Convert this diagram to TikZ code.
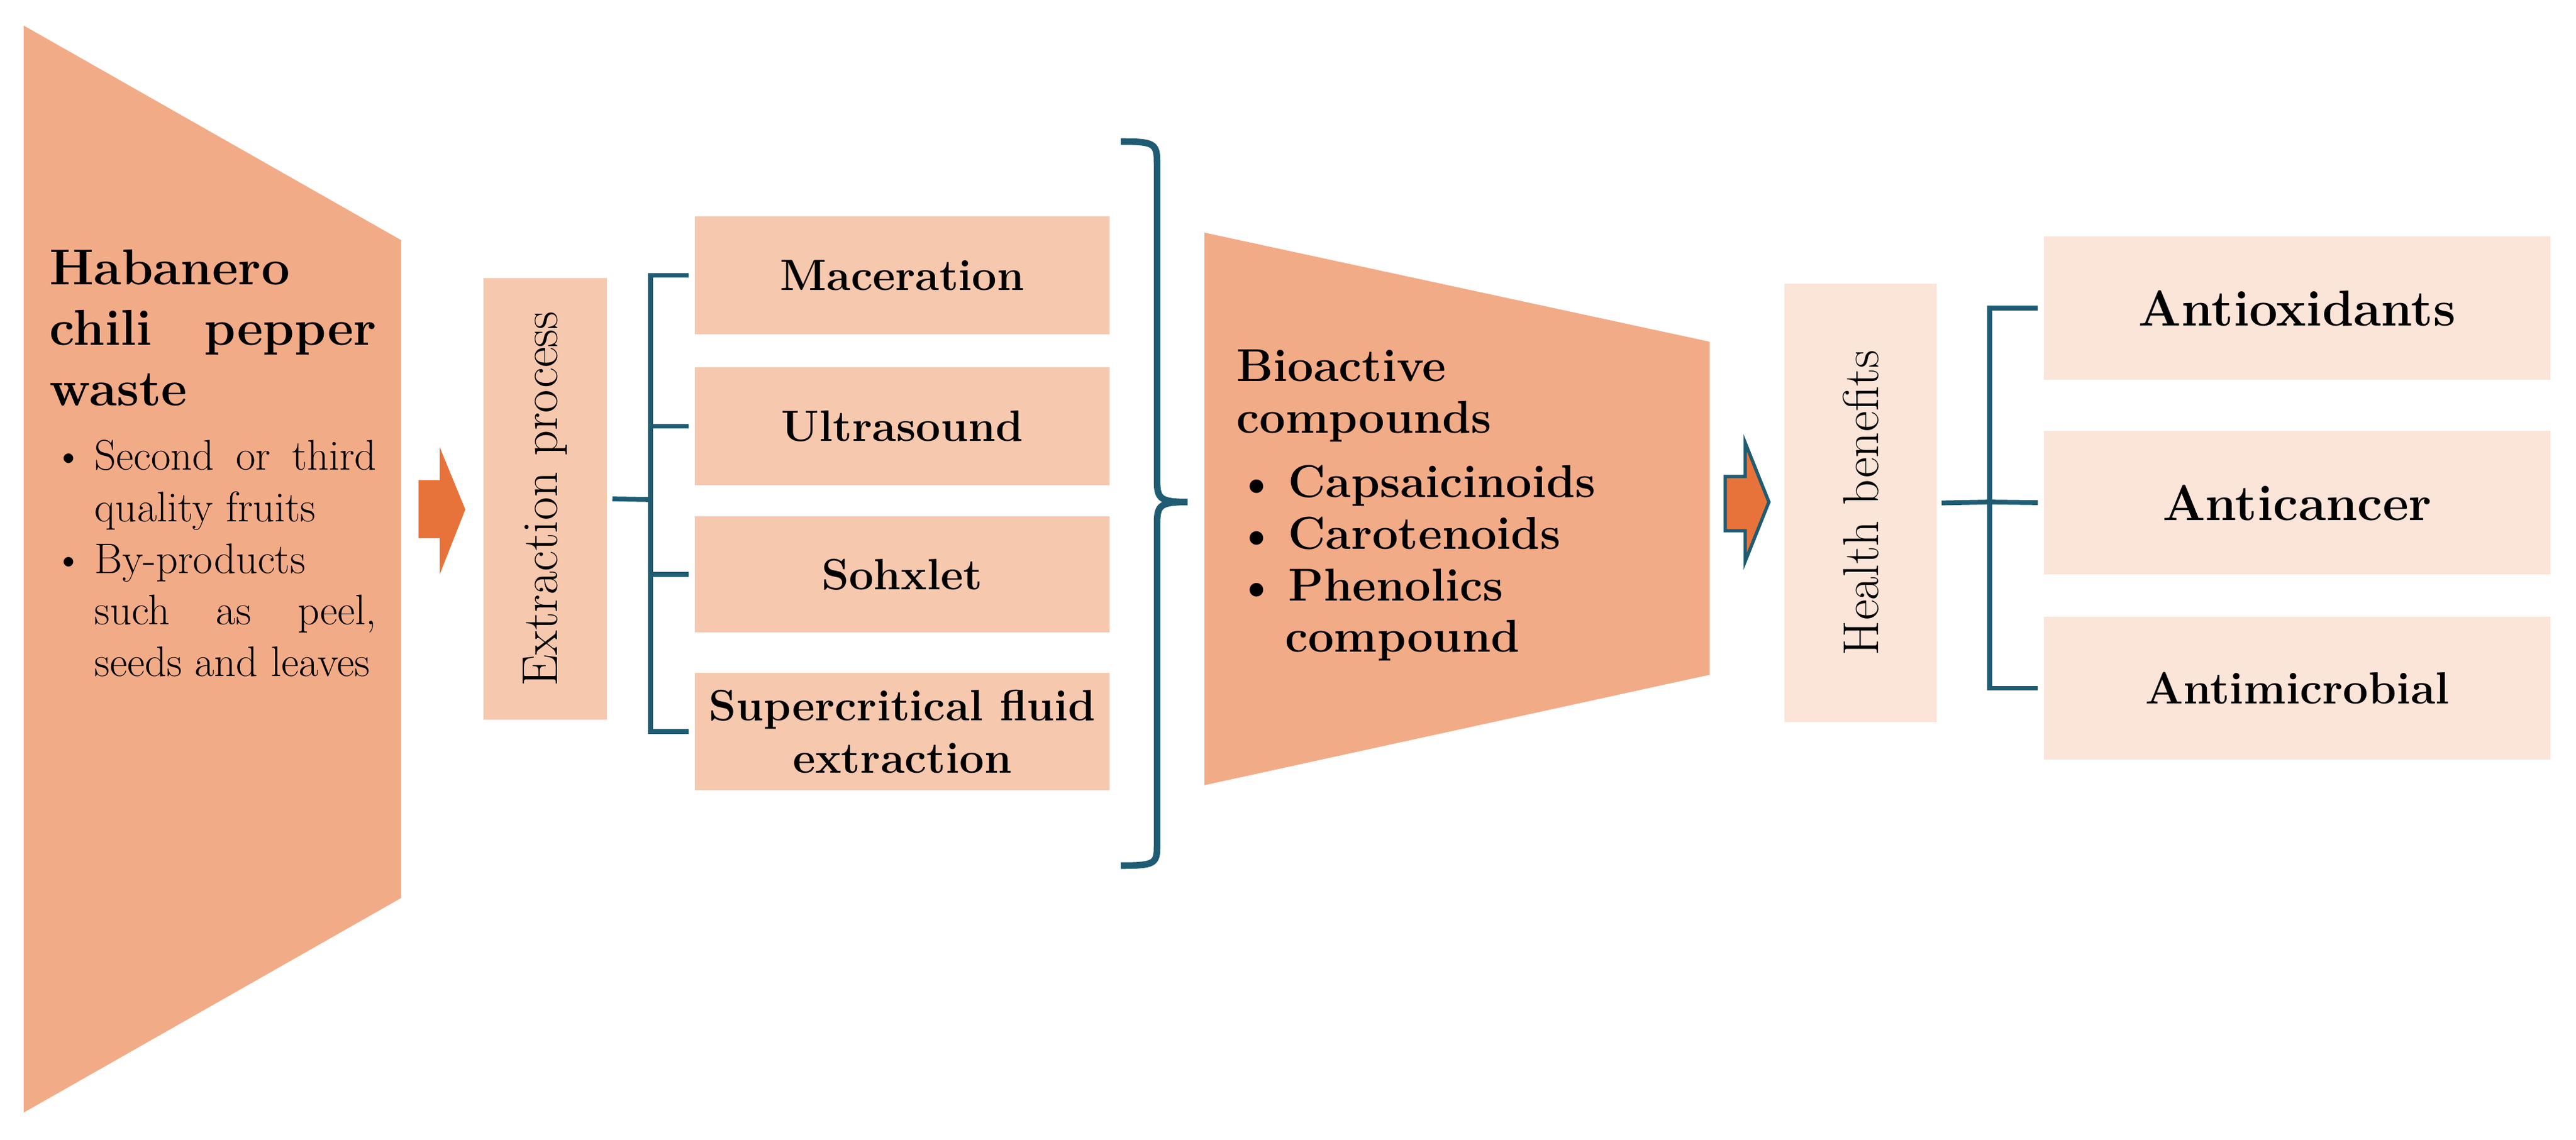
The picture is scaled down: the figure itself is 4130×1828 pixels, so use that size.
\documentclass[tikz,border=0pt]{standalone}
\usepackage{fontspec}
\usetikzlibrary{calc}
\definecolor{trap}{HTML}{F2AB87}
\definecolor{mbox}{HTML}{F6C8AE}
\definecolor{lbox}{HTML}{FBE4D8}
\definecolor{arr}{HTML}{E8733A}
\definecolor{conn}{HTML}{1F5C73}
\tikzset{
  box/.style={draw=none,inner sep=0pt},
  link/.style={draw=conn,line width=2.2pt},
  meth/.style={font=\fontsize{20}{24}\selectfont\bfseries,align=center},
}
\newcommand{\blist}[1]{\begin{list}{\textbullet}{\setlength{\leftmargin}{1.05em}\setlength{\labelwidth}{0.8em}\setlength{\labelsep}{0.25em}\setlength{\itemsep}{0pt}\setlength{\topsep}{4pt}\setlength{\parsep}{0pt}}#1\end{list}}
\begin{document}
\begin{tikzpicture}[x=0.01cm,y=-0.01cm]
\useasboundingbox (0,0) rectangle (4130,1828);
% left trapezoid
\fill[trap] (38,41) -- (643,385) -- (643,1440) -- (38,1784) -- cycle;
\node[anchor=north west,inner sep=0pt,text width=5.24cm,align=justify] (waste) at (79,400)
 {\fontsize{23}{27.5}\selectfont\bfseries Habanero chili pepper waste\par
  \fontsize{19.5}{23.5}\selectfont\mdseries
  \blist{\item Second or third quality fruits
  \item By-products such as peel, seeds and leaves}};
% arrow 1
\fill[arr] (671,770) -- (705,770) -- (705,717) -- (746,817) -- (705,921) -- (705,863) -- (671,863) -- cycle;
% extraction box
\node[box,fill=mbox,minimum width=1.98cm,minimum height=7.07cm] (ext) at (874,800) {};
\node[rotate=90,font=\fontsize{23}{27}\selectfont] at (ext) {Extraction process};
% methods
\foreach \n/\y/\h/\txt in {mac/441.5/1.89cm/Maceration, ult/683.5/1.89cm/Ultrasound, soh/921/1.86cm/Sohxlet, sup/1173/1.88cm/{Supercritical fluid\\extraction}}{
  \node[box,fill=mbox,minimum width=6.65cm,minimum height=\h] (\n) at (1446.5,\y) {};
  \node[meth] at (\n) {\txt};
}
\coordinate (ej) at (1043,801);
\draw[link] (ext.east) ++(8,0) -- (ej);
\draw[link] ($(mac.west)+(-9,0)$) -| (ej) |- ($(sup.west)+(-9,0)$);
\draw[link] ($(ult.west)+(-9,0)$) -- (1043,683.5);
\draw[link] ($(soh.west)+(-9,0)$) -- (1043,921);
% brace
\draw[conn,line width=3pt] (1797,227) .. controls (1850,227) and (1855,230) .. (1855,260) -- (1855,770) .. controls (1855,800) and (1860,805) .. (1904,805)
  .. controls (1860,805) and (1855,810) .. (1855,840) -- (1855,1358) .. controls (1855,1385) and (1850,1388) .. (1797,1388);
% bioactive trapezoid
\fill[trap] (1931,373) -- (2741,548) -- (2741,1082) -- (1931,1259) -- cycle;
\node[anchor=north west,inner sep=0pt,text width=8cm] (bio) at (1982,560)
 {\fontsize{21}{23.5}\selectfont\bfseries Bioactive\\compounds\par
  \blist{\item Capsaicinoids \item Carotenoids \item Phenolics\\compound}};
% arrow 2
\draw[fill=arr,draw=conn,line width=1.5pt] (2766,764) -- (2798,764) -- (2798,710) -- (2836,805) -- (2798,900) -- (2798,851) -- (2766,851) -- cycle;
% health box
\node[box,fill=lbox,minimum width=2.44cm,minimum height=7.03cm] (hb) at (2983,806.5) {};
\node[rotate=90,font=\fontsize{23}{27}\selectfont] at (hb) {Health benefits};
\foreach \n/\y/\txt/\s in {aox/494/Antioxidants/23, aca/806/Anticancer/23, ami/1103.5/Antimicrobial/20.5}{
  \node[box,fill=lbox,minimum width=8.12cm,minimum height=2.29cm] (\n) at (3683,\y) {};
  \node[font=\fontsize{\s}{24}\selectfont\bfseries] at (\n) {\txt};
}
\coordinate (hj) at (3190,805);
\draw[link] (hb.east) ++(7,0) -- (hj);
\draw[link] ($(aox.west)+(-9,0)$) -| (hj) |- ($(ami.west)+(-9,0)$);
\draw[link] (hj) -- ($(aca.west)+(-9,0)$);
\end{tikzpicture}
\end{document}
